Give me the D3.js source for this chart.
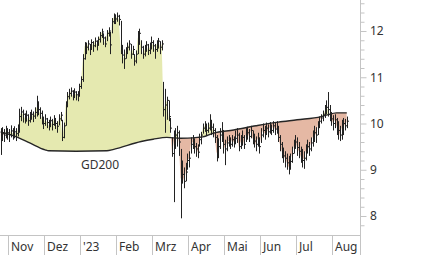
<!DOCTYPE html>
<html>
<head>
<meta charset="utf-8">
<script src="https://cdn.jsdelivr.net/npm/d3@7"></script>
<style>
    body { margin: 0; background: #fff; }
    svg { display: block; font-family: "Noto Sans", "Open Sans", sans-serif; }
</style>
</head>
<body>
<svg id="chart" width="426" height="255"></svg>
<script>
// daily bars, prices in cents (late Oct 2022 .. early Aug 2023)
let close = [
    972, 978, 975, 982, 980, 976, 984, 979, 982, 978, 986,
    1015, 1025, 1020, 1012, 1018, 1006, 1015, 1020, 1016, 1024,
    1035, 1030, 1022, 1012, 1000, 1010,
    1002, 995, 1006, 998, 1008, 1000, 994, 1010, 1018,
    970, 995, 1040, 1058, 1065, 1070, 1060, 1068, 1062, 1060,
    1080, 1095, 1140, 1168, 1165, 1172, 1160, 1175, 1168, 1178, 1170, 1182,
    1190, 1198, 1185, 1172, 1195, 1200, 1170, 1220, 1230, 1226, 1232, 1225,
    1160, 1148, 1140, 1155, 1165, 1172, 1150, 1160, 1135, 1150, 1185, 1195,
    1165, 1150, 1160, 1170, 1158, 1165, 1175, 1168, 1160, 1170, 1178, 1165, 1172,
    1030, 1040, 1050, 1015, 990, 935, 960, 975, 980, 960, 880,
    890, 875, 895, 920, 925, 955, 960, 950, 945, 938, 965, 975,
    990, 995, 985, 990, 1000, 992, 985, 970, 935, 950, 975, 985, 955, 945,
    958, 962, 955, 965, 960, 968, 975, 950, 960, 970, 955,
    975, 980, 972, 985, 968, 962, 955, 968, 950,
    975, 985, 978, 990, 982, 992, 985, 995, 988, 990,
    970, 955, 940, 930, 925, 915, 905, 918, 935, 950, 960,
    948, 940, 930, 920, 925, 940, 950, 945, 958, 970, 980, 975,
    995, 1005, 1012, 1020, 1025, 1035, 1030, 1018, 1010, 1000,
    1008, 995, 985, 975, 990, 1000, 995, 1005
];
let high = [
    990, 992, 988, 995, 990, 988, 996, 990, 994, 990, 998,
    1032, 1036, 1030, 1022, 1028, 1020, 1025, 1030, 1026, 1035,
    1060, 1048, 1035, 1028, 1015, 1020,
    1012, 1008, 1015, 1010, 1018, 1012, 1005, 1020, 1025,
    1008, 1002, 1048, 1068, 1075, 1078, 1072, 1076, 1070, 1070,
    1086, 1102, 1150, 1176, 1175, 1180, 1172, 1182, 1178, 1186, 1180, 1188,
    1198, 1205, 1195, 1188, 1202, 1208, 1198, 1228, 1238, 1236, 1240, 1235,
    1222, 1170, 1160, 1165, 1175, 1180, 1172, 1168, 1150, 1158, 1200, 1205,
    1180, 1168, 1170, 1178, 1172, 1175, 1188, 1180, 1172, 1180, 1185, 1178, 1180,
    1090, 1075, 1058, 1050, 1012, 970, 985, 990, 995, 985, 945,
    920, 905, 915, 935, 940, 970, 975, 968, 958, 955, 978, 982,
    1000, 1005, 1000, 1002, 1020, 1008, 1000, 990, 975, 968, 990, 1003, 985, 965,
    972, 975, 970, 975, 972, 985, 990, 980, 975, 985, 975,
    990, 993, 988, 995, 985, 978, 972, 980, 970,
    990, 1000, 995, 1002, 998, 1003, 998, 1005, 1002, 1005,
    995, 975, 960, 948, 940, 935, 930, 935, 950, 965, 975,
    970, 960, 950, 945, 940, 955, 965, 960, 970, 985, 995, 992,
    1005, 1015, 1020, 1028, 1040, 1050, 1068, 1040, 1025, 1018,
    1020, 1012, 1005, 995, 1008, 1012, 1010, 1015
];
let low = [
    932, 962, 960, 968, 965, 960, 970, 965, 968, 962, 972,
    980, 1005, 1002, 1000, 1004, 995, 1002, 1008, 1003, 1010,
    1015, 1018, 1010, 998, 988, 995,
    990, 985, 992, 985, 995, 988, 980, 996, 1005,
    962, 968, 995, 1035, 1052, 1058, 1050, 1055, 1050, 1048,
    1058, 1075, 1090, 1138, 1150, 1158, 1148, 1160, 1155, 1165, 1158, 1168,
    1175, 1185, 1170, 1165, 1178, 1188, 1150, 1195, 1215, 1215, 1220, 1212,
    1150, 1130, 1118, 1140, 1150, 1158, 1140, 1148, 1125, 1130, 1150, 1170,
    1150, 1140, 1145, 1155, 1148, 1150, 1160, 1155, 1140, 1155, 1162, 1150, 1158,
    1015, 980, 1008, 1005, 980, 928, 830, 945, 950, 930, 795,
    870, 860, 875, 900, 905, 935, 945, 935, 928, 925, 950, 955,
    978, 982, 975, 980, 985, 975, 970, 958, 918, 925, 945, 960, 935, 910,
    940, 950, 945, 950, 948, 955, 958, 940, 945, 952, 945,
    960, 965, 960, 968, 955, 948, 940, 950, 935,
    958, 970, 965, 975, 970, 978, 975, 980, 975, 978,
    960, 940, 925, 915, 905, 900, 890, 900, 915, 935, 945,
    930, 925, 915, 905, 902, 920, 935, 930, 940, 950, 960, 958,
    975, 990, 1000, 1005, 1012, 1020, 1015, 1005, 995, 985,
    990, 975, 965, 962, 965, 975, 985, 990
];

// 200-day average, read at a few bars
let gd200Idx = [0, 10, 17, 26, 28, 44, 62, 66, 82, 89, 97, 105, 115, 118, 124, 136, 149, 162, 173, 187, 190, 196, 202];
let gd200Val = [9.82, 9.70, 9.58, 9.43, 9.41, 9.40, 9.41, 9.44, 9.61, 9.66, 9.70, 9.68, 9.70, 9.71, 9.79, 9.86, 9.95, 10.03, 10.08, 10.15, 10.18, 10.23, 10.23];

let months = ['Nov', 'Dez', "'23", 'Feb', 'Mrz', 'Apr', 'Mai', 'Jun', 'Jul', 'Aug'];
let monthStart = [5, 26, 47, 68, 89, 110, 131, 152, 173, 194];
let yTicks = d3.range(39, 64).map(k => k / 5);

let width = 426, height = 255;
let plotRight = 360.5, plotBottom = 235.5;
let svg = d3.select('#chart');

let x = d3.scaleLinear().domain([0, close.length - 1]).range([0.6, 346.8]);
let y = d3.scaleLinear().domain([8, 12]).range([216, 31]);

let ma = gd200Idx.map((d, i) => [d, gd200Val[i]]);
let defs = svg.append('defs');

defs.append('clipPath').attr('id', 'above-ma')
    .append('path')
    .attr('d', d3.area().x(d => x(d[0])).y0(0).y1(d => y(d[1])).curve(d3.curveMonotoneX)(ma));
defs.append('clipPath').attr('id', 'below-ma')
    .append('path')
    .attr('d', d3.area().x(d => x(d[0])).y0(plotBottom).y1(d => y(d[1])).curve(d3.curveMonotoneX)(ma));

// fill between price and GD200
svg.append('path')
    .attr('d', d3.area().x((d, i) => x(i)).y0(plotBottom).y1(d => y(d / 100))(close))
    .attr('fill', '#e5e9b0')
    .attr('clip-path', 'url(#above-ma)');
svg.append('path')
    .attr('d', d3.area().x((d, i) => x(i)).y0(0).y1(d => y(d / 100))(close))
    .attr('fill', '#e5b8a4')
    .attr('clip-path', 'url(#below-ma)');

svg.append('path')
    .attr('d', d3.line().x(d => x(d[0])).y(d => y(d[1])).curve(d3.curveMonotoneX)(ma))
    .attr('fill', 'none')
    .attr('stroke', '#262626')
    .attr('stroke-width', 1.4);

svg.append('text')
    .attr('x', x(58))
    .attr('y', y(9.40) + 18)
    .attr('text-anchor', 'middle')
    .attr('font-size', '12px')
    .attr('fill', '#333')
    .text('GD200');

// bars
svg.append('g')
    .selectAll('path')
    .data(close)
    .enter().append('path')
    .attr('d', (d, i) => {
        let xi = Math.round(x(i)) + 0.5;
        return `M${xi},${y(high[i] / 100)}V${y(low[i] / 100)}M${xi},${y(d / 100)}H${xi + 1.5}`;
    })
    .attr('fill', 'none')
    .attr('stroke', '#222')
    .attr('stroke-width', 1);

// right axis
let yAxis = svg.append('g')
    .attr('transform', `translate(${plotRight}, 0)`)
    .call(d3.axisRight(y).tickValues(yTicks).tickSize(4).tickPadding(5)
        .tickFormat(d => Math.abs(d - Math.round(d)) < 1e-6 ? d3.format('d')(Math.round(d)) : ''));
yAxis.select('.domain').remove();
yAxis.selectAll('.tick line')
    .attr('stroke', '#c4c4c4')
    .attr('x2', d => Math.abs(d - Math.round(d)) < 1e-6 ? 6 : 4);
yAxis.selectAll('.tick text')
    .attr('x', 9.5)
    .attr('fill', '#333')
    .attr('font-size', '12px')
    .attr('font-family', '"Noto Sans", "Open Sans", sans-serif');

svg.append('line')
    .attr('x1', plotRight).attr('x2', plotRight)
    .attr('y1', 0).attr('y2', height)
    .attr('stroke', '#c4c4c4');
svg.append('line')
    .attr('x1', 0).attr('x2', plotRight)
    .attr('y1', plotBottom).attr('y2', plotBottom)
    .attr('stroke', '#c4c4c4');

// month axis
let mg = svg.append('g')
    .selectAll('g')
    .data(months)
    .enter().append('g')
    .attr('transform', (d, i) => `translate(${Math.round(x(monthStart[i]) - 0.85) + 0.5}, 0)`);
mg.append('line')
    .attr('y1', plotBottom).attr('y2', height)
    .attr('stroke', '#c4c4c4');
mg.append('text')
    .attr('x', 2.5)
    .attr('y', 251)
    .attr('font-size', '12px')
    .attr('fill', '#333')
    .text(d => d);
</script>
</body>
</html>
